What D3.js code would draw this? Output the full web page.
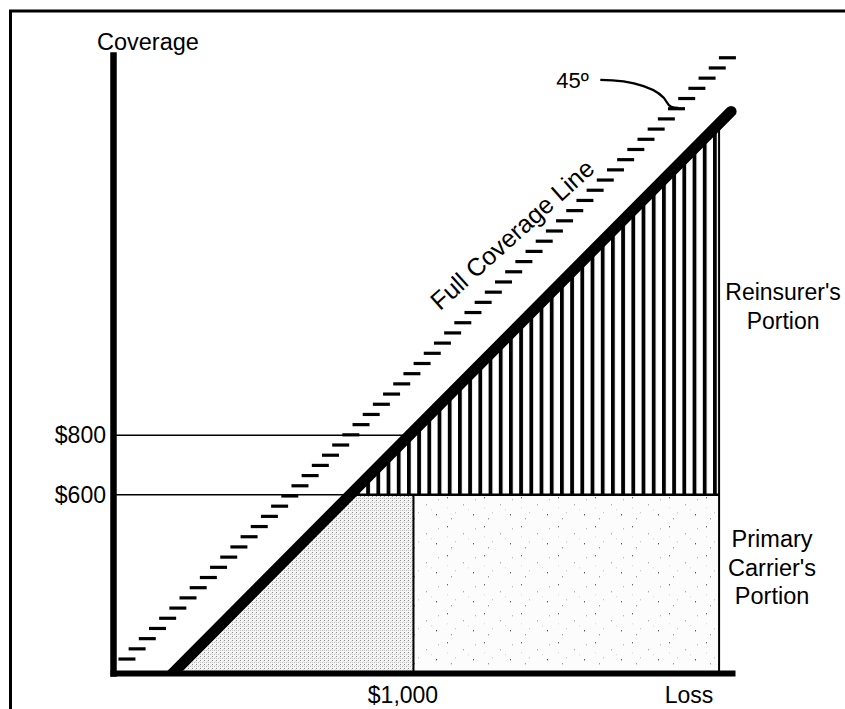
<!DOCTYPE html>
<html>
<head>
<meta charset="utf-8">
<script src="https://cdn.jsdelivr.net/npm/d3@7"></script>
<style>
  body { margin: 0; background: #fff; }
  text { font-family: "Liberation Sans", Arial, Helvetica, sans-serif; fill: #000; }
</style>
</head>
<body>
<div id="chart"></div>
<script>
// axis extents, in dollars
const lossDomain = [0, 2060];
const coverageDomain = [0, 2080];

// 45 degree "full coverage" line and the actual coverage line (loss less deductible)
const fullCoverageLine = [[0, 0], [2047, 2073]];
const coverageLine = [[200, 0], [2057, 1890]];

const coverageTicks = [600, 800];
const coverageLabels = ["$600", "$800"];
const lossTicks = [1000];
const lossLabels = ["$1,000"];

const primaryLimit = 600;    // top of the primary carrier's layer
const splitLoss = 1000;      // vertical divider inside primary layer
const portionEdge = 2017;    // right edge of both portions
const angleMarkLoss = 1878;  // where the 45º pointer meets the dashed line

const width = 845, height = 709;

const svg = d3.select("#chart").append("svg")
  .attr("width", width)
  .attr("height", height);

const x = d3.scaleLinear().domain(lossDomain).range([113, 732]);
const y = d3.scaleLinear().domain(coverageDomain).range([673, 55]);

// coverage as a function of loss along each line
const cov = d3.scaleLinear()
  .domain([coverageLine[0][0], coverageLine[1][0]])
  .range([coverageLine[0][1], coverageLine[1][1]]);
const full = d3.scaleLinear()
  .domain([fullCoverageLine[0][0], fullCoverageLine[1][0]])
  .range([fullCoverageLine[0][1], fullCoverageLine[1][1]]);

const defs = svg.append("defs");

// vertical hatching for the reinsurer's portion
const hatch = defs.append("pattern")
  .attr("id", "hatch")
  .attr("patternUnits", "userSpaceOnUse")
  .attr("x", -1).attr("y", 0)
  .attr("width", 10.2).attr("height", 10);
hatch.append("rect").attr("width", 3.8).attr("height", 10).attr("fill", "#000");

// dense stipple (triangle under the coverage line)
const dense = defs.append("pattern")
  .attr("id", "dense")
  .attr("patternUnits", "userSpaceOnUse")
  .attr("width", 4).attr("height", 4);
dense.append("rect").attr("width", 4).attr("height", 4).attr("fill", "#f5f5f5");
[[0, 0, "#8a8a8a"], [2, 2, "#b8b8b8"], [0, 2, "#c8c8c8"], [3, 1, "#dddddd"]].forEach(d => {
  dense.append("rect").attr("x", d[0]).attr("y", d[1])
    .attr("width", 1).attr("height", 1).attr("fill", d[2]);
});

// sparse stipple (rest of the primary layer)
const sparse = defs.append("pattern")
  .attr("id", "sparse")
  .attr("patternUnits", "userSpaceOnUse")
  .attr("width", 37).attr("height", 29);
sparse.append("rect").attr("width", 37).attr("height", 29).attr("fill", "#fcfcfc");
[[3, 4, "#666"], [19, 11, "#aaa"], [29, 21, "#555"], [11, 19, "#ccc"],
 [31, 6, "#bbb"], [7, 25, "#999"], [24, 16, "#ddd"], [3, 14, "#e0e0e0"]].forEach(d => {
  sparse.append("rect").attr("x", d[0]).attr("y", d[1])
    .attr("width", 1).attr("height", 1.4).attr("fill", d[2]);
});

defs.append("clipPath").attr("id", "aboveAxis")
  .append("rect").attr("x", 0).attr("y", 0).attr("width", width).attr("height", y(0));

// frame
svg.append("path")
  .attr("d", "M10.5,709V11H845")
  .attr("fill", "none")
  .attr("stroke", "#000")
  .attr("stroke-width", 3);

const lossAt600 = cov.invert(primaryLimit);
const lossAt800 = cov.invert(800);

// primary carrier's portion: dense triangle left of $1,000, sparse to the right
svg.append("path")
  .attr("d", d3.line()([
    [x(coverageLine[0][0]), y(0)],
    [x(lossAt600), y(primaryLimit)],
    [x(splitLoss), y(primaryLimit)],
    [x(splitLoss), y(0)]
  ]) + "Z")
  .attr("fill", "url(#dense)");

svg.append("path")
  .attr("d", d3.line()([
    [x(splitLoss), y(0)],
    [x(splitLoss), y(primaryLimit)],
    [x(portionEdge), y(primaryLimit)],
    [x(portionEdge), y(0)]
  ]) + "Z")
  .attr("fill", "url(#sparse)");

// reinsurer's portion
svg.append("path")
  .attr("d", d3.line()([
    [x(lossAt600), y(primaryLimit)],
    [x(portionEdge), y(cov(portionEdge))],
    [x(portionEdge), y(primaryLimit)]
  ]) + "Z")
  .attr("fill", "url(#hatch)");

// reference levels
svg.append("line")
  .attr("x1", x(0)).attr("x2", x(lossAt800))
  .attr("y1", y(800)).attr("y2", y(800))
  .attr("stroke", "#000").attr("stroke-width", 1.5);

svg.append("line")
  .attr("x1", x(0)).attr("x2", x(lossAt600))
  .attr("y1", y(primaryLimit)).attr("y2", y(primaryLimit))
  .attr("stroke", "#000").attr("stroke-width", 1.5);

svg.append("line")
  .attr("x1", x(lossAt600)).attr("x2", x(portionEdge))
  .attr("y1", y(primaryLimit)).attr("y2", y(primaryLimit))
  .attr("stroke", "#000").attr("stroke-width", 2.5);

svg.append("line")
  .attr("x1", x(portionEdge)).attr("x2", x(portionEdge))
  .attr("y1", y(0)).attr("y2", y(cov(portionEdge)))
  .attr("stroke", "#000").attr("stroke-width", 2);

svg.append("line")
  .attr("x1", x(splitLoss)).attr("x2", x(splitLoss))
  .attr("y1", y(0)).attr("y2", y(primaryLimit))
  .attr("stroke", "#000").attr("stroke-width", 2);

// dashed full coverage line, drawn as short horizontal dashes
const dashStep = 34.3;
const dashes = d3.range(47, fullCoverageLine[1][1], dashStep);
svg.append("g").selectAll("line")
  .data(dashes)
  .join("line")
  .attr("x1", d => x(full.invert(d)) - 8.5)
  .attr("x2", d => x(full.invert(d)) + 8.5)
  .attr("y1", d => y(d))
  .attr("y2", d => y(d))
  .attr("stroke", "#000")
  .attr("stroke-width", 3.2);

// actual coverage line
svg.append("line")
  .attr("clip-path", "url(#aboveAxis)")
  .attr("x1", x(coverageLine[0][0]) - 6).attr("y1", y(0) + 6)
  .attr("x2", x(coverageLine[1][0])).attr("y2", y(coverageLine[1][1]))
  .attr("stroke", "#000")
  .attr("stroke-width", 11)
  .attr("stroke-linecap", "round");

// axes
const yAxis = svg.append("g")
  .attr("transform", `translate(${x(0)},0)`)
  .call(d3.axisLeft(y)
    .tickValues(coverageTicks)
    .tickFormat((d, i) => coverageLabels[i])
    .tickSize(0)
    .tickSizeOuter(0)
    .tickPadding(7));
yAxis.select(".domain").attr("stroke-width", 6.5).attr("stroke-linecap", "square");
yAxis.selectAll("text").style("font-size", "23px").attr("fill", "#000");

const xAxis = svg.append("g")
  .attr("transform", `translate(0,${y(0)})`)
  .call(d3.axisBottom(x)
    .tickValues(lossTicks)
    .tickFormat((d, i) => lossLabels[i])
    .tickSize(0)
    .tickSizeOuter(0)
    .tickPadding(14));
xAxis.select(".domain").attr("stroke-width", 6).attr("stroke-linecap", "square");
xAxis.selectAll("text").style("font-size", "23px").attr("fill", "#000").attr("dx", -11);

svg.append("text")
  .attr("x", x(0) - 16)
  .attr("y", 50)
  .style("font-size", "23.5px")
  .text("Coverage");

svg.append("text")
  .attr("x", x(lossDomain[1]) - 43)
  .attr("y", 703)
  .attr("text-anchor", "middle")
  .style("font-size", "23px")
  .text("Loss");

// portion labels
svg.append("text")
  .attr("text-anchor", "middle")
  .style("font-size", "23px")
  .selectAll("tspan")
  .data(["Reinsurer's", "Portion"])
  .join("tspan")
  .attr("x", x(portionEdge) + 64)
  .attr("y", (d, i) => 300 + i * 29)
  .text(d => d);

svg.append("text")
  .attr("text-anchor", "middle")
  .style("font-size", "23.5px")
  .selectAll("tspan")
  .data(["Primary", "Carrier's", "Portion"])
  .join("tspan")
  .attr("x", x(portionEdge) + 53)
  .attr("y", (d, i) => 547 + i * 28.5)
  .text(d => d);

// line label
svg.append("text")
  .attr("text-anchor", "middle")
  .attr("transform", "translate(518,241) rotate(-42)")
  .style("font-size", "25px")
  .text("Full Coverage Line");

// 45º pointer
const pe = [x(angleMarkLoss), y(full(angleMarkLoss))];
svg.append("path")
  .attr("d", `M${pe[0] - 77},${pe[1] - 28} C${pe[0] - 44},${pe[1] - 28} ${pe[0] - 17},${pe[1] - 19} ${pe[0] - 10},${pe[1] - 5} Q${pe[0] - 8},${pe[1]} ${pe[0] + 1},${pe[1]}`)
  .attr("fill", "none")
  .attr("stroke", "#000")
  .attr("stroke-width", 2.3);

svg.append("text")
  .attr("x", pe[0] - 121)
  .attr("y", pe[1] - 20)
  .style("font-size", "22px")
  .text("45º");
</script>
</body>
</html>
